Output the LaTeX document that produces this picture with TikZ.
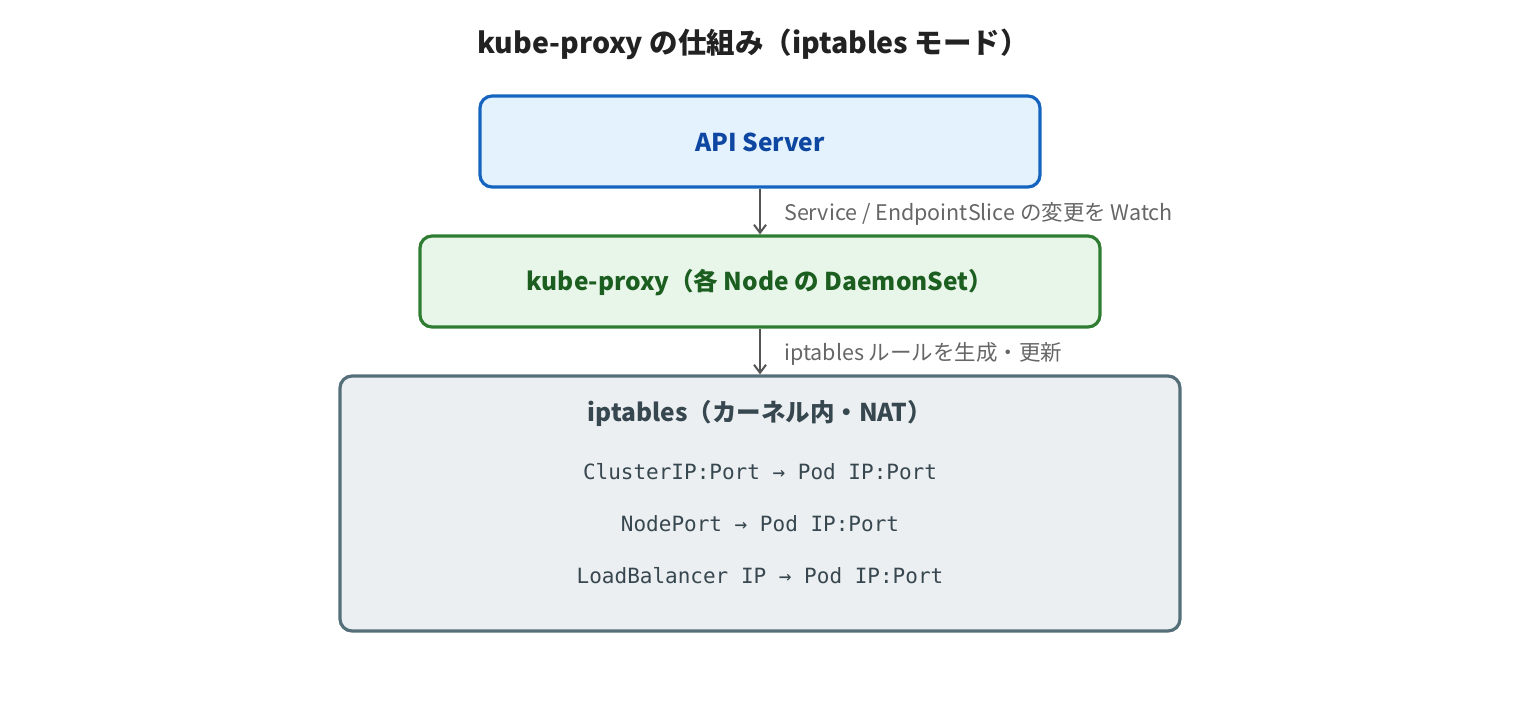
\documentclass[tikz,border=0pt]{standalone}
\usepackage{fontspec}
\setmainfont{Noto Sans CJK JP}
\setmonofont{DejaVu Sans Mono}
\usetikzlibrary{arrows.meta}
\definecolor{bluebd}{HTML}{1565C0}
\definecolor{bluefill}{HTML}{E3F2FD}
\definecolor{bluetx}{HTML}{0D47A1}
\definecolor{greenbd}{HTML}{2E7D32}
\definecolor{greenfill}{HTML}{E8F5E9}
\definecolor{greentx}{HTML}{1B5E20}
\definecolor{graybd}{HTML}{546E7A}
\definecolor{grayfill}{HTML}{ECEFF1}
\definecolor{graytx}{HTML}{37474F}
\definecolor{arrowc}{HTML}{555555}
\definecolor{labelc}{HTML}{666666}
\definecolor{titlec}{HTML}{222222}
\tikzset{
  box/.style={draw, line width=3.2pt, rounded corners=12pt, inner sep=0pt},
  boxtext/.style={font=\bfseries\fontsize{24.5}{28}\selectfont, inner sep=0pt},
  mono/.style={font=\ttfamily\fontsize{21}{24}\selectfont, text=graytx, inner sep=0pt},
  lbl/.style={font=\fontsize{21.5}{24}\selectfont, text=labelc, anchor=west, inner sep=0pt},
  conn/.style={draw=arrowc, line width=2pt, -{Straight Barb[length=8pt,width=12pt,line width=2pt]}},
}
\begin{document}
\begin{tikzpicture}[x=1pt,y=-1pt]
\useasboundingbox (0,0) rectangle (1520,712);
\node[font=\bfseries\fontsize{28.5}{32}\selectfont, text=titlec, inner sep=0pt] (title) at (753,44) {kube-proxy の仕組み（iptables モード）};
\node[box, draw=bluebd, fill=bluefill, minimum width=560pt, minimum height=91pt] (api) at (760,141.5) {};
\node[boxtext, text=bluetx] (apit) at (760,142) {API Server};
\node[box, draw=greenbd, fill=greenfill, minimum width=680pt, minimum height=91pt] (kp) at (760,281.5) {};
\node[boxtext, text=greentx] (kpt) at (760,283) {kube-proxy（各 Node の DaemonSet）};
\node[box, draw=graybd, fill=grayfill, minimum width=840pt, minimum height=255pt] (ipt) at (760,503.5) {};
\node[boxtext, text=graytx] (iptt) at (760,413) {iptables（カーネル内・NAT）};
\node[mono] (m1) at (760,472) {ClusterIP:Port → Pod IP:Port};
\node[mono] (m2) at (760,524) {NodePort → Pod IP:Port};
\node[mono] (m3) at (760,576) {LoadBalancer IP → Pod IP:Port};
\draw[conn] (api.south) -- (kp.north);
\draw[conn] (kp.south) -- (ipt.north);
\node[lbl] (l1) at (784,214) {Service / EndpointSlice の変更を Watch};
\node[lbl] (l2) at (784,354) {iptables ルールを生成・更新};
\end{tikzpicture}
\end{document}
